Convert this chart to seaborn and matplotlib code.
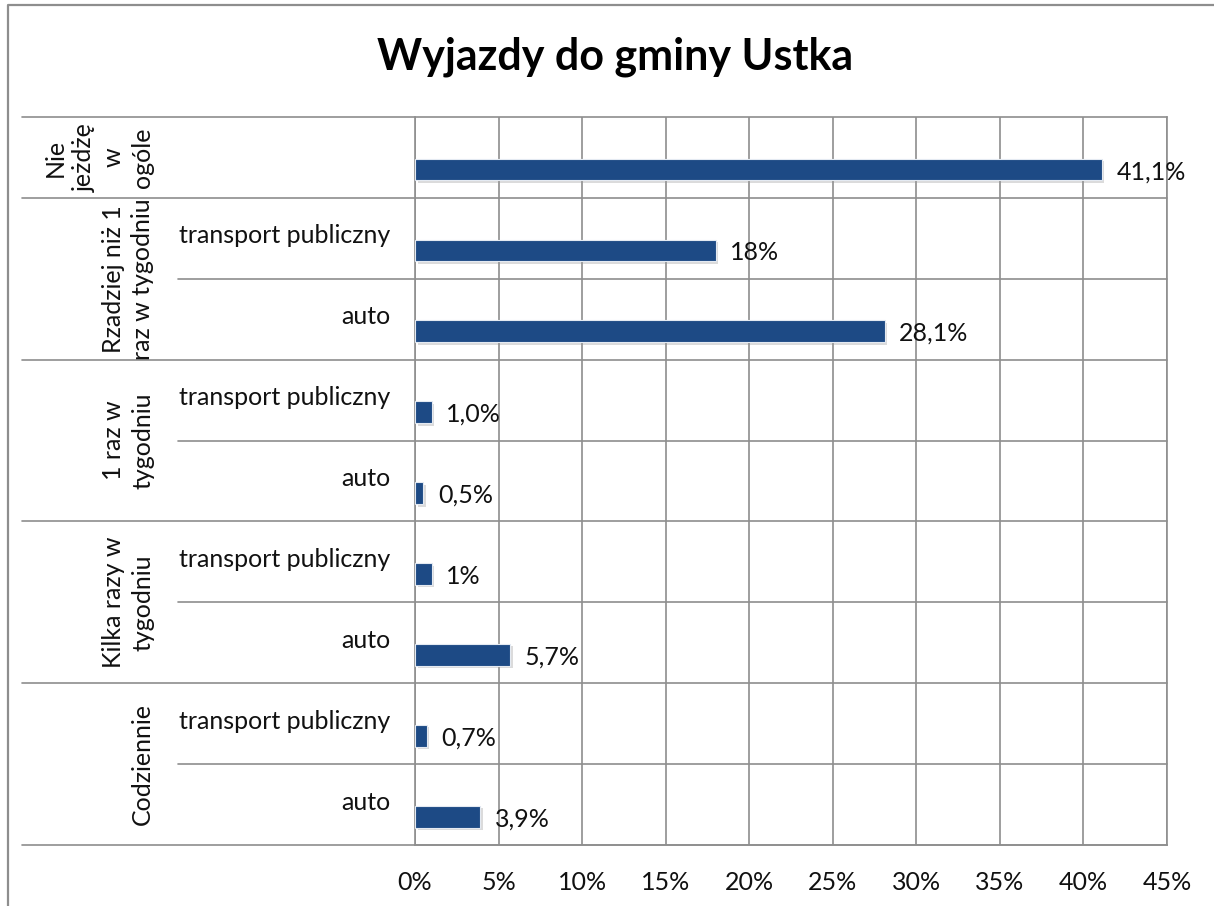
import matplotlib
matplotlib.use("Agg")
import matplotlib.pyplot as plt
import matplotlib.patheffects as pe
from matplotlib.lines import Line2D
import seaborn as sns
import pandas as pd

# Chart data
groups = ["Nie\njeżdżę\nw\nogóle", "Rzadziej niż 1\nraz w tygodniu", "1 raz w\ntygodniu",
          "Kilka razy w\ntygodniu", "Codziennie"]
group_rows = [[0], [1, 2], [3, 4], [5, 6], [7, 8]]
modes = ["", "transport publiczny", "auto", "transport publiczny", "auto",
         "transport publiczny", "auto", "transport publiczny", "auto"]
values = [41.1, 18, 28.1, 1.0, 0.5, 1, 5.7, 0.7, 3.9]
value_labels = ["41,1%", "18%", "28,1%", "1,0%", "0,5%", "1%", "5,7%", "0,7%", "3,9%"]
x_ticks = [0, 5, 10, 15, 20, 25, 30, 35, 40, 45]
x_tick_labels = ["0%", "5%", "10%", "15%", "20%", "25%", "30%", "35%", "40%", "45%"]
title = "Wyjazdy do gminy Ustka"

sns.set_theme(style="white")
plt.rcParams["font.family"] = ["Lato", "DejaVu Sans"]

W, H = 1214, 906
FS = 18
fig = plt.figure(figsize=(W / 100, H / 100), dpi=100)
ax = fig.add_axes([415 / W, 1 - 845 / H, (1167 - 415) / W, (845 - 117) / H])

bar_color = "#1D4A85"
grid_color = "#8E8E8E"

df = pd.DataFrame({"row": [f"r{i}" for i in range(len(values))], "value": values})
sns.barplot(data=df, x="value", y="row", orient="h", color=bar_color, width=0.27,
            saturation=1, ax=ax, edgecolor="#E4EAF2", linewidth=0.8, zorder=3)

shadow = [pe.SimplePatchShadow(offset=(1.8, -1.8), shadow_rgbFace="#9a9a9a", alpha=0.35), pe.Normal()]
for p in ax.patches:
    p.set_path_effects(shadow)

off = 0.15  # bars sit below the middle of each row
n = len(values)
ax.set_ylim(n - off - 0.5, -off - 0.5)
ax.set_xlim(0, 45)

# value labels
for p, lab in zip(ax.patches, value_labels):
    yc = p.get_y() + p.get_height() / 2
    ax.annotate(lab, xy=(p.get_width(), yc), xytext=(10.5, -1.5), textcoords="offset points",
                va="center", ha="left", fontsize=FS, color="#111111", zorder=5)

# axes styling
ax.set_xticks(x_ticks)
ax.set_xticklabels(x_tick_labels, fontsize=FS, color="#111111")
ax.tick_params(axis="x", direction="out", length=5.5, width=1.2, color=grid_color, pad=13)
ax.set_yticks([])
ax.set_xlabel("")
ax.set_ylabel("")
ax.grid(axis="x", color=grid_color, linewidth=1.2, zorder=0)
ax.grid(axis="y", visible=False)
ax.spines["top"].set_visible(False)
for s in ["left", "bottom", "right"]:
    ax.spines[s].set_color(grid_color)
    ax.spines[s].set_linewidth(1.2)

tr = ax.get_yaxis_transform()
x_outer = (22 - 415) / (1167 - 415)
x_inner = (178 - 415) / (1167 - 415)
x_mode = (390 - 415) / (1167 - 415)
x_group = (154 - 415) / (1167 - 415)

# row boundaries
group_bounds = [rows[0] for rows in group_rows] + [n]
for k in range(n + 1):
    yb = k - off - 0.5
    x0 = x_outer if k in group_bounds else x_inner
    ax.plot([x0, 1], [yb, yb], transform=tr, color=grid_color, lw=1.2, clip_on=False, zorder=1)

# category labels
for i, m in enumerate(modes):
    if m:
        ax.text(x_mode, i - off - 0.03, m, transform=tr, ha="right", va="center",
                fontsize=FS, color="#111111")
for g, rows in zip(groups, group_rows):
    yc = (rows[0] + rows[-1]) / 2 - off
    ax.text(x_group, yc, g, transform=tr, ha="right", va="center", rotation=90,
            multialignment="center", fontsize=FS, color="#111111", linespacing=1.32)

fig.text(615 / W, 1 - 57 / H, title, ha="center", va="center", fontsize=31,
         fontweight="bold", color="#000000")

# chart frame
fig.add_artist(Line2D([8 / W, 8 / W, 1.0], [0.0, 1 - 5 / H, 1 - 5 / H],
                      transform=fig.transFigure, color=grid_color, lw=1.6))

fig.savefig("out.png", dpi=100, facecolor="white")
